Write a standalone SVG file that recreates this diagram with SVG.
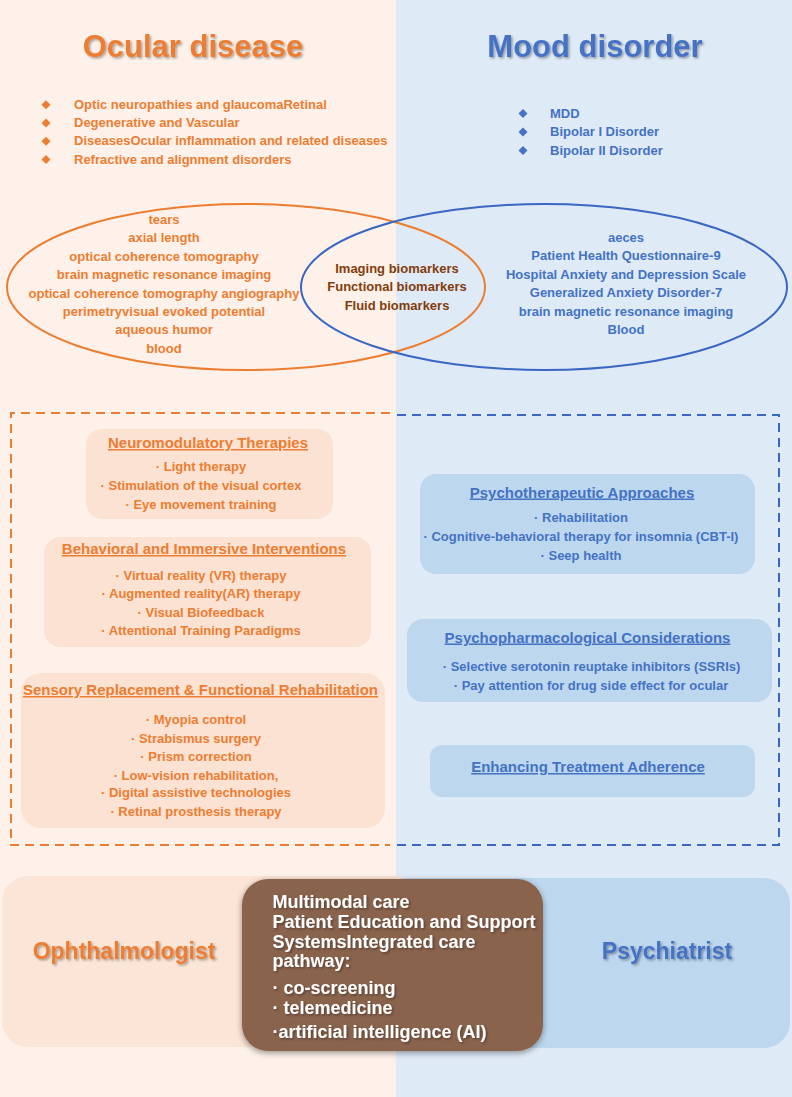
<svg xmlns="http://www.w3.org/2000/svg" width="792" height="1097" viewBox="0 0 792 1097">
<defs>
<filter id="ts" x="-10%" y="-30%" width="120%" height="160%">
<feDropShadow dx="1.5" dy="1.5" stdDeviation="1" flood-color="#000" flood-opacity="0.35"/>
</filter>
<filter id="bs" x="-10%" y="-10%" width="120%" height="125%">
<feDropShadow dx="0" dy="2" stdDeviation="3" flood-color="#000" flood-opacity="0.4"/>
</filter>
</defs>
<style>
text{font-family:"Liberation Sans",Arial,sans-serif;font-weight:bold}
.big{font-size:31px}
.it{font-size:13px}
.or{fill:#ED7D31}
.bl{fill:#4472C4}
.br{fill:#843C0C}
.ttl{font-size:15px;text-decoration:underline}
.c{text-anchor:middle}
.obox{fill:#FBE2D2}
.bbox{fill:#BDD7EE}
.wt{fill:#FFFFFF;font-size:18px}
.role{font-size:23px}
</style>
<rect x="0" y="0" width="396" height="1097" fill="#FDF1E9"/>
<rect x="396" y="0" width="396" height="1097" fill="#DEEAF6"/>

<g id="title-ocular">
<text x="193" y="57" class="big or c" filter="url(#ts)">Ocular disease</text>
</g>
<g id="title-mood">
<text x="595" y="57" class="big bl c" filter="url(#ts)">Mood disorder</text>
</g>

<g id="ocular-list">
<polygon points="46,100.3 50.5,104.8 46,109.3 41.5,104.8" class="or"/>
<polygon points="46,118.5 50.5,123 46,127.5 41.5,123" class="or"/>
<polygon points="46,136.7 50.5,141.2 46,145.7 41.5,141.2" class="or"/>
<polygon points="46,155 50.5,159.5 46,164 41.5,159.5" class="or"/>
<text x="74" y="108.8" class="it or">Optic neuropathies and glaucomaRetinal</text>
<text x="74" y="127" class="it or">Degenerative and Vascular</text>
<text x="74" y="145.2" class="it or">DiseasesOcular inflammation and related diseases</text>
<text x="74" y="163.5" class="it or">Refractive and alignment disorders</text>
</g>

<g id="mood-list">
<polygon points="523,109 527.5,113.5 523,118 518.5,113.5" class="bl"/>
<polygon points="523,127.5 527.5,132 523,136.5 518.5,132" class="bl"/>
<polygon points="523,146 527.5,150.5 523,155 518.5,150.5" class="bl"/>
<text x="550" y="117.5" class="it bl">MDD</text>
<text x="550" y="136" class="it bl">Bipolar I Disorder</text>
<text x="550" y="154.5" class="it bl">Bipolar II Disorder</text>
</g>

<g id="venn">
<ellipse cx="246" cy="287" rx="239" ry="83" fill="none" stroke="#ED7D31" stroke-width="2"/>
<ellipse cx="544" cy="287" rx="243" ry="83" fill="none" stroke="#3A66C4" stroke-width="2"/>
</g>

<g id="ocular-biomarkers">
<text x="164" y="224" class="it or c">tears</text>
<text x="164" y="242.4" class="it or c">axial length</text>
<text x="164" y="260.8" class="it or c">optical coherence tomography</text>
<text x="164" y="279.2" class="it or c">brain magnetic resonance imaging</text>
<text x="164" y="297.6" class="it or c">optical coherence tomography angiography</text>
<text x="164" y="316" class="it or c">perimetryvisual evoked potential</text>
<text x="164" y="334.4" class="it or c">aqueous humor</text>
<text x="164" y="352.8" class="it or c">blood</text>
</g>

<g id="shared-biomarkers">
<text x="397" y="272.5" class="it br c">Imaging biomarkers</text>
<text x="397" y="291" class="it br c">Functional biomarkers</text>
<text x="397" y="309.5" class="it br c">Fluid biomarkers</text>
</g>

<g id="mood-biomarkers">
<text x="626" y="242" class="it bl c">aeces</text>
<text x="626" y="260.4" class="it bl c">Patient Health Questionnaire-9</text>
<text x="626" y="278.8" class="it bl c">Hospital Anxiety and Depression Scale</text>
<text x="626" y="297.2" class="it bl c">Generalized Anxiety Disorder-7</text>
<text x="626" y="315.6" class="it bl c">brain magnetic resonance imaging</text>
<text x="626" y="334" class="it bl c">Blood</text>
</g>

<g id="connectors">
<path d="M390,413 H11 V845 H390" fill="none" stroke="#ED7D31" stroke-width="2" stroke-dasharray="9,6"/>
<path d="M397,415 H779 V845 H397" fill="none" stroke="#3A66C4" stroke-width="2" stroke-dasharray="9,6"/>
</g>

<g id="neuromodulatory">
<rect x="86" y="429" width="247" height="90" rx="16" class="obox"/>
<text x="208" y="448" class="ttl or c">Neuromodulatory Therapies</text>
<text x="201" y="471" class="it or c">· Light therapy</text>
<text x="201" y="489.5" class="it or c">· Stimulation of the visual cortex</text>
<text x="201" y="508.5" class="it or c">· Eye movement training</text>
</g>

<g id="behavioral">
<rect x="44" y="537" width="327" height="110" rx="16" class="obox"/>
<text x="204" y="554" class="ttl or c">Behavioral and Immersive Interventions</text>
<text x="201" y="579.5" class="it or c">· Virtual reality (VR) therapy</text>
<text x="201" y="598" class="it or c">· Augmented reality(AR) therapy</text>
<text x="201" y="616.8" class="it or c">· Visual Biofeedback</text>
<text x="201" y="635.2" class="it or c">· Attentional Training Paradigms</text>
</g>

<g id="sensory">
<rect x="21" y="673" width="364" height="155" rx="20" class="obox"/>
<text x="200.5" y="695" class="ttl or c">Sensory Replacement &amp; Functional Rehabilitation</text>
<text x="196" y="723.8" class="it or c">· Myopia control</text>
<text x="196" y="742.8" class="it or c">· Strabismus surgery</text>
<text x="196" y="761.2" class="it or c">· Prism correction</text>
<text x="196" y="779.5" class="it or c">· Low-vision rehabilitation,</text>
<text x="196" y="797.2" class="it or c">· Digital assistive technologies</text>
<text x="196" y="816.2" class="it or c">· Retinal prosthesis therapy</text>
</g>

<g id="psychotherapeutic">
<rect x="420" y="474" width="335" height="100" rx="16" class="bbox"/>
<text x="582" y="497.5" class="ttl bl c">Psychotherapeutic Approaches</text>
<text x="581" y="522" class="it bl c">· Rehabilitation</text>
<text x="581" y="541" class="it bl c">· Cognitive-behavioral therapy for insomnia (CBT-I)</text>
<text x="581" y="559.5" class="it bl c">· Seep health</text>
</g>

<g id="psychopharmacological">
<rect x="407" y="619" width="365" height="83" rx="16" class="bbox"/>
<text x="587.5" y="642.5" class="ttl bl c">Psychopharmacological Considerations</text>
<text x="591.5" y="671" class="it bl c">· Selective serotonin reuptake inhibitors (SSRIs)</text>
<text x="591" y="689.5" class="it bl c">· Pay attention for drug side effect for ocular</text>
</g>

<g id="adherence">
<rect x="430" y="745" width="325" height="52" rx="12" class="bbox"/>
<text x="588" y="772" class="ttl bl c">Enhancing Treatment Adherence</text>
</g>

<g id="ophthalmologist">
<rect x="2" y="876" width="420" height="171" rx="26" fill="#FBE5D6"/>
<text x="124" y="959" class="role or c" filter="url(#ts)">Ophthalmologist</text>
</g>

<g id="psychiatrist">
<rect x="380" y="878" width="410" height="170" rx="26" class="bbox"/>
<text x="667" y="959" class="role bl c" filter="url(#ts)">Psychiatrist</text>
</g>

<g id="multimodal">
<rect x="242" y="879" width="301" height="172" rx="26" fill="#8A634D" filter="url(#bs)"/>
<g filter="url(#ts)">
<text x="272.5" y="907.5" class="wt">Multimodal care</text>
<text x="272.5" y="927.5" class="wt">Patient Education and Support</text>
<text x="272.5" y="947.5" class="wt">SystemsIntegrated care</text>
<text x="272.5" y="966.5" class="wt">pathway:</text>
<text x="272.5" y="994" class="wt">· co-screening</text>
<text x="272.5" y="1014" class="wt">· telemedicine</text>
<text x="272.5" y="1037.5" class="wt">·artificial intelligence (AI)</text>
</g>
</g>
</svg>
